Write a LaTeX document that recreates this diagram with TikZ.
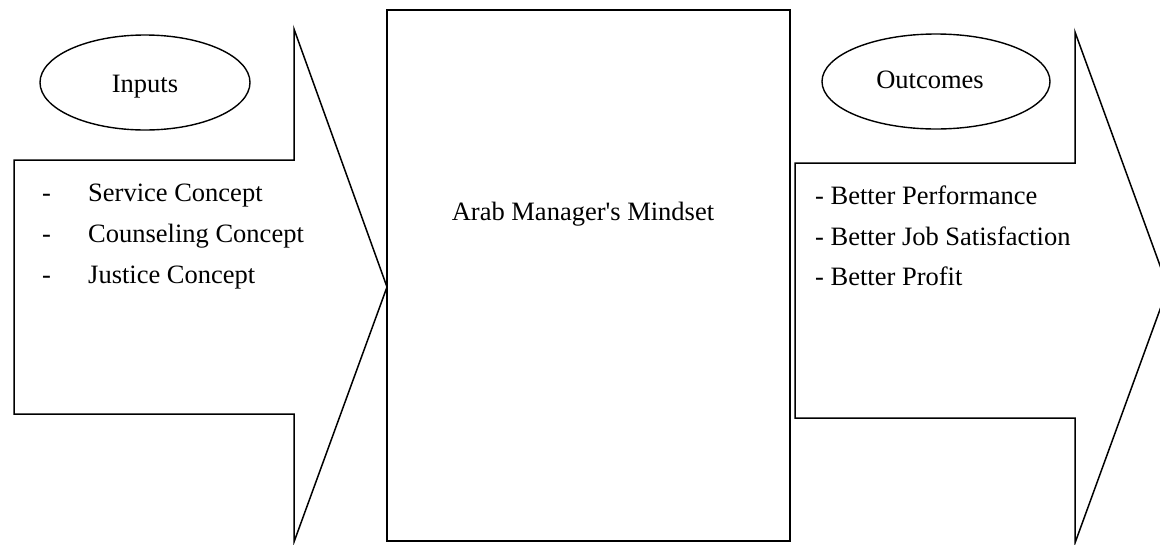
\documentclass[tikz,border=0pt]{standalone}
\usepackage{fontspec}
\setmainfont{Liberation Serif}
\usetikzlibrary{shapes.geometric}
\tikzset{
  blockarrow/.style={draw=black, line width=1.5pt, line join=miter},
  mindbox/.style={draw=black, line width=2pt, rectangle, inner sep=0pt},
  ovalnode/.style={draw=black, line width=1.4pt, ellipse, inner sep=0pt},
  label/.style={anchor=base west, inner sep=0pt, font=\fontsize{26.5}{32}\selectfont},
  clabel/.style={anchor=base, inner sep=0pt, font=\fontsize{26.5}{32}\selectfont}
}
\begin{document}
\begin{tikzpicture}[x=1pt,y=-1pt]
\clip (0,0) rectangle (1160,544);
\fill[white] (0,0) rectangle (1160,544);
% left block arrow
\draw[blockarrow] (14,160) -- (294,160) -- (294,29) -- (387,287) -- (294,542) -- (294,414) -- (14,414) -- cycle;
% middle box
\node[mindbox, minimum width=403pt, minimum height=531pt] (mind) at (588.5,275.5) {};
% right block arrow
\draw[blockarrow] (795,163) -- (1075,163) -- (1075,32) -- (1168,287.5) -- (1075,543) -- (1075,418) -- (795,418) -- cycle;
% ellipses
\node[ovalnode, minimum width=210pt, minimum height=95pt] (inputs) at (145,82.5) {};
\node[ovalnode, minimum width=228pt, minimum height=95pt] (outcomes) at (936,81.5) {};
\node[clabel] (inputsT) at (145,92) {Inputs};
\node[clabel] (outcomesT) at (930,88) {Outcomes};
% middle text
\node[clabel] (mindT) at (583,220) {Arab Manager\textquotesingle s Mindset};
% left list
\node[label] (d1) at (42,201) {-};
\node[label] (d2) at (42,242) {-};
\node[label] (d3) at (42,283) {-};
\node[label] (i1) at (88,201) {Service Concept};
\node[label] (i2) at (88,242) {Counseling Concept};
\node[label] (i3) at (88,283) {Justice Concept};
% right list
\node[label] (o1) at (815,204) {- Better Performance};
\node[label] (o2) at (815,245) {- Better Job Satisfaction};
\node[label] (o3) at (815,285) {- Better Profit};
\end{tikzpicture}
\end{document}
